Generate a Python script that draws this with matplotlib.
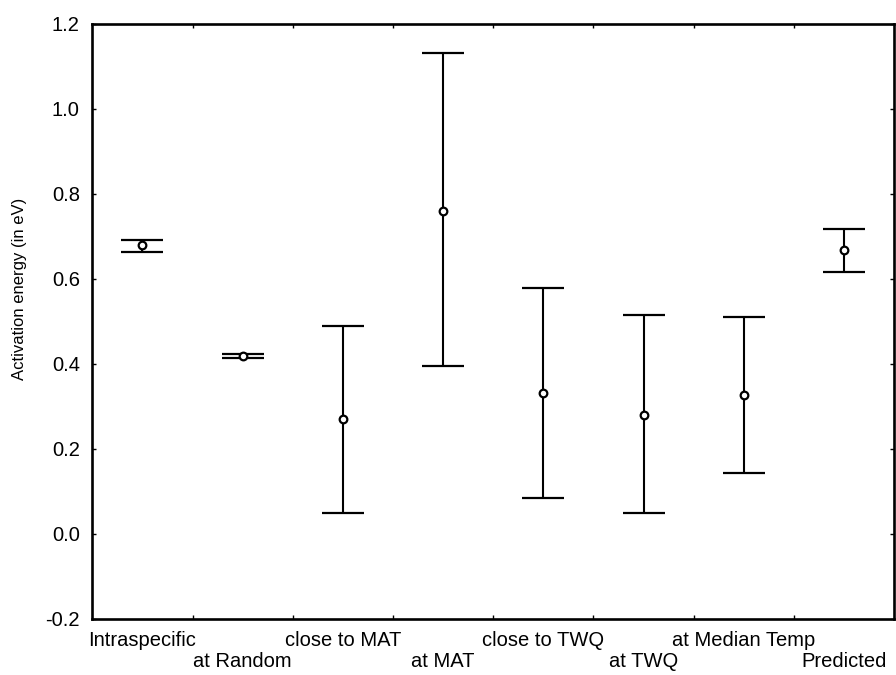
import matplotlib.pyplot as plt
import numpy as np

plt.rcParams['font.family'] = ['Liberation Sans', 'DejaVu Sans']

# (activation energy, eV)
categories = ['Intraspecific', 'at Random', 'close to MAT', 'at MAT',
              'close to TWQ', 'at TWQ', 'at Median Temp', 'Predicted']
means = [0.68, 0.419, 0.27, 0.76, 0.332, 0.28, 0.327, 0.667]
lower = [0.664, 0.414, 0.049, 0.396, 0.085, 0.050, 0.144, 0.617]
upper = [0.692, 0.424, 0.490, 1.132, 0.579, 0.515, 0.511, 0.718]

x = np.arange(len(categories))
means = np.array(means)
yerr = [means - np.array(lower), np.array(upper) - means]

fig = plt.figure(figsize=(8.96, 6.75), dpi=100)
ax = fig.add_axes([0.103, 0.083, 0.895, 0.8815])

ax.errorbar(x, means, yerr=yerr, fmt='o', color='black', ecolor='black',
            elinewidth=1.5, capsize=15, capthick=2.2,
            markersize=5.5, markerfacecolor='white', markeredgecolor='black',
            markeredgewidth=1.6)

ax.set_xlim(-0.5, 7.5)
ax.set_ylim(-0.2, 1.2)
ax.set_yticks(np.arange(-0.2, 1.21, 0.2))
ax.set_yticklabels(['%.1f' % v for v in np.arange(-0.2, 1.21, 0.2)], fontsize=14.5)

# category names as labels, every second one dropped a line
ax.set_xticks(x)
labels = [c if i % 2 == 0 else '\n' + c for i, c in enumerate(categories)]
ax.set_xticklabels(labels, fontsize=14.5, linespacing=1.1)
ax.tick_params(axis='x', which='major', length=0, pad=9)
ax.set_xticks(np.arange(0.5, 7, 1), minor=True)
ax.tick_params(axis='x', which='minor', direction='in', length=3, width=1,
               top=True, bottom=True)
ax.tick_params(axis='y', direction='in', length=3, width=1, left=True,
               right=True, pad=9)

for s in ax.spines.values():
    s.set_linewidth(1.9)

ax.set_ylabel('Activation energy (in eV)', fontsize=12)
ax.yaxis.set_label_coords(-0.082, 0.555)

fig.savefig('out.png', dpi=100)
